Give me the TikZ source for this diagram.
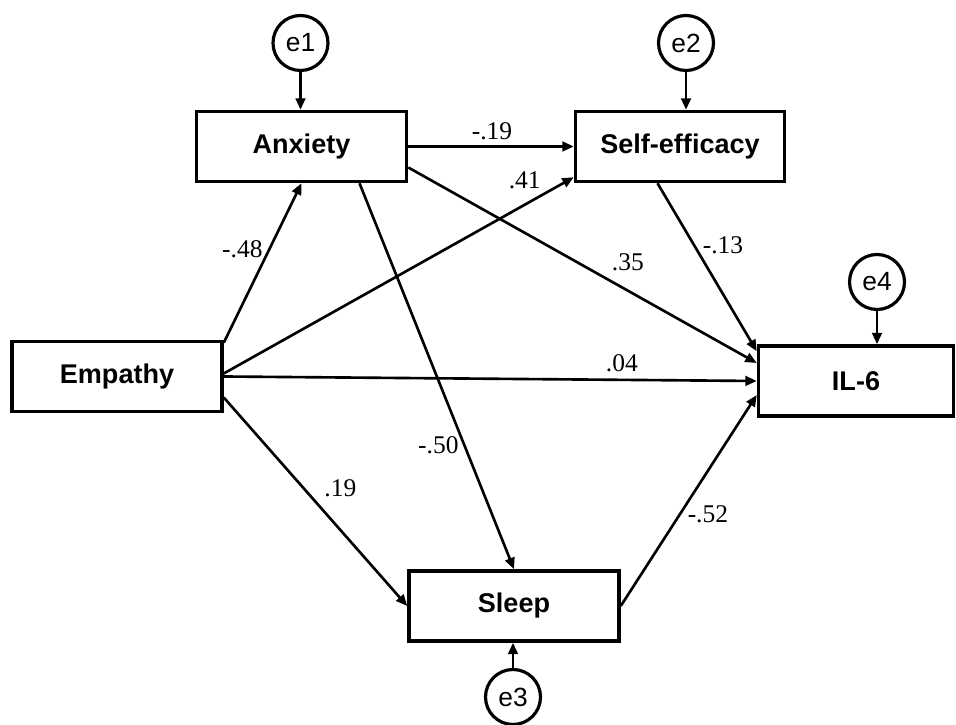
\documentclass[tikz,border=0pt]{standalone}
\usepackage{fontspec}
\setmainfont{Liberation Serif}
\newfontfamily\arialfont{Liberation Sans}
\usetikzlibrary{arrows.meta}
\tikzstyle{var} = [draw, line width=2pt, minimum width=4.2cm, minimum height=1.4cm, font=\arialfont\fontsize{15.4}{18}\selectfont\bfseries]
\tikzstyle{err} = [draw, circle, line width=1.8pt, minimum size=1.1cm, inner sep=0pt, font=\arialfont\fontsize{15}{18}\selectfont]
\tikzstyle{path} = [line width=1.5pt, -{Triangle[length=6.5pt,width=5.5pt]}]
\tikzstyle{coef} = [inner sep=0pt, font=\fontsize{14.5}{17}\selectfont]

\begin{document}
\begin{tikzpicture}
  \useasboundingbox (0,0) rectangle (19.12,14.5);
  \node (anx) at ( 6.03,11.57) [var] {Anxiety};
  \node (se) at ( 13.6,11.57) [var, minimum width=4.18cm] {Self-efficacy};
  \node (emp) at ( 2.34,6.97) [var] {Empathy};
  \node (il) at ( 17.12,6.88) [var, minimum width=3.9cm] {IL-6};
  \node (slp) at ( 10.28,2.38) [var] {Sleep};
  \node (e1) at ( 6.01,13.64) [err] {e1};
  \node (e2) at ( 13.72,13.64) [err] {e2};
  \node (e3) at ( 10.26,0.56) [err] {e3};
  \node (e4) at ( 17.54,8.86) [err] {e4};
  \draw [path] (e1.south) -- (e1.south |- anx.north);
  \draw [path] (e2.south) -- (e2.south |- se.north);
  \draw [path] (e3.north) -- (e3.north |- slp.south);
  \draw [path] (e4.south) -- (e4.south |- il.north);
  \draw [path] ([yshift=-0.06cm]emp.north east) to node [coef, pos=0.587, shift={(-0.54,0)}] {-.48} (anx.south);
  \draw [path] ([yshift=0.06cm]emp.east) to node [coef, pos=0.86, shift={(0,0.48)}] {.41} ([yshift=0.12cm]se.south west);
  \draw [path] (emp.east) to node [coef, pos=0.747, shift={(0,0.34)}] {.04} (il.west);
  \draw [path] ([yshift=-0.42cm]emp.east) to node [coef, pos=0.434, shift={(0.74,0)}] {.19} (slp.west);
  \draw [path] (anx.east) to node [coef, pos=0.506, shift={(0,0.30)}] {-.19} (se.west);
  \draw [path] ([yshift=-0.42cm]anx.east) to node [coef, pos=0.63, shift={(0,0.56)}] {.35} ([yshift=0.36cm]il.west);
  \draw [path] ([xshift=1.16cm]anx.south) to node [coef, pos=0.679, shift={(-0.52,0)}] {-.50} (slp.north);
  \draw [path] ([xshift=-0.45cm]se.south) to node [coef, pos=0.367, shift={(0.58,0)}] {-.13} ([yshift=-0.14cm]il.north west);
  \draw [path] (slp.east) to node [coef, pos=0.435, shift={(0.56,0)}] {-.52} ([yshift=-0.28cm]il.west);
\end{tikzpicture}
\end{document}
